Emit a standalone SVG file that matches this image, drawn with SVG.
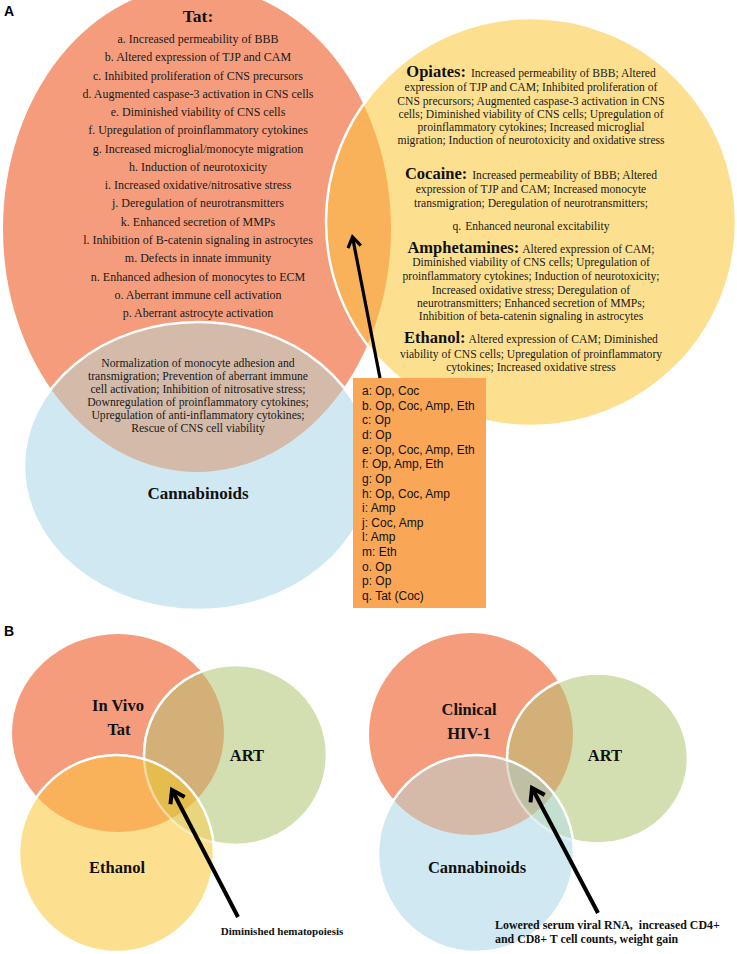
<svg xmlns="http://www.w3.org/2000/svg" width="737" height="954" viewBox="0 0 737 954">
<style>
.t{font-family:"Liberation Serif","Times New Roman",serif;font-size:12px;fill:#1a1a1a;text-anchor:middle}
.o{font-family:"Liberation Serif","Times New Roman",serif;font-size:11.7px;fill:#1a1a1a;text-anchor:middle}
.s{font-family:"Liberation Serif","Times New Roman",serif;font-size:11.6px;fill:#1a1a1a;text-anchor:middle}
.h{font-family:"Liberation Serif","Times New Roman",serif;font-size:16.5px;font-weight:bold;fill:#111}
.lb{font-family:"Liberation Serif","Times New Roman",serif;font-size:16.5px;font-weight:bold;fill:#111;text-anchor:middle}
.cap{font-family:"Liberation Serif","Times New Roman",serif;font-size:11px;font-weight:bold;fill:#111}
.cap2{font-family:"Liberation Serif","Times New Roman",serif;font-size:11.9px;font-weight:bold;fill:#111}
.bx{font-family:"Liberation Sans",Arial,sans-serif;font-size:12px;fill:#111}
.pl{font-family:"Liberation Sans",Arial,sans-serif;font-size:14px;font-weight:bold;fill:#000}
.ws{fill:none;stroke:#fff;stroke-width:2.5}
.arw{stroke:#000;fill:none}
</style>
<defs>
<clipPath id="cTatA"><ellipse cx="197" cy="229" rx="194" ry="243"/></clipPath>
<clipPath id="cTatB"><ellipse cx="118" cy="733" rx="106" ry="99"/></clipPath>
<clipPath id="cArtB"><ellipse cx="235.5" cy="755" rx="91.5" ry="90"/></clipPath>
<clipPath id="cHivC"><ellipse cx="471" cy="734" rx="102" ry="101"/></clipPath>
<clipPath id="cArtC"><ellipse cx="597.5" cy="758.5" rx="90.5" ry="85"/></clipPath>
<mask id="mEthB"><rect width="737" height="954" fill="#fff"/><ellipse cx="116.5" cy="853.5" rx="97.5" ry="98.5" fill="#000"/></mask>
<mask id="mCanC"><rect width="737" height="954" fill="#fff"/><ellipse cx="476" cy="853.5" rx="98" ry="98.5" fill="#000"/></mask>
<marker id="ah" viewBox="0 0 16 16" refX="13" refY="8" markerWidth="16" markerHeight="16" markerUnits="userSpaceOnUse" orient="auto">
<path d="M3,1.5 L13,8 L3,14.5" fill="none" stroke="#000" stroke-width="3.2"/>
</marker>
<marker id="ah2" viewBox="0 0 20 20" refX="16" refY="10" markerWidth="20" markerHeight="20" markerUnits="userSpaceOnUse" orient="auto">
<path d="M4,2 L16,10 L4,18" fill="none" stroke="#000" stroke-width="4"/>
</marker>
</defs>

<text class="pl" x="4" y="16">A</text>
<text class="pl" x="4" y="636">B</text>

<!-- Panel A -->
<g id="tat-a">
<ellipse cx="197" cy="229" rx="194" ry="243" fill="#F59C7C"/>
</g>
<g id="cannabinoids-a">
<ellipse cx="198" cy="466" rx="174" ry="144" fill="#CFE8F1"/>
<ellipse cx="198" cy="466" rx="174" ry="144" fill="#D4BAA9" clip-path="url(#cTatA)"/>
<ellipse class="ws" cx="198" cy="466" rx="174" ry="144"/>
<text class="lb" x="198" y="499" style="font-size:17px">Cannabinoids</text>
</g>
<g id="drugs-a">
<ellipse cx="531" cy="222" rx="205" ry="204" fill="#FDE08F"/>
<ellipse cx="531" cy="222" rx="205" ry="204" fill="#F9B15A" clip-path="url(#cTatA)"/>
<ellipse class="ws" cx="531" cy="222" rx="205" ry="204"/>
</g>
<g id="tat-text">
<text class="lb" x="198" y="22" style="font-size:17.5px">Tat:</text>
<text class="t" x="198" y="43">a. Increased permeability of BBB</text>
<text class="t" x="198" y="61.3">b. Altered expression of TJP and CAM</text>
<text class="t" x="198" y="79.5">c. Inhibited proliferation of CNS precursors</text>
<text class="t" x="198" y="97.8">d. Augmented caspase-3 activation in CNS cells</text>
<text class="t" x="198" y="116.1">e. Diminished viability of CNS cells</text>
<text class="t" x="198" y="134.4">f. Upregulation of proinflammatory cytokines</text>
<text class="t" x="198" y="152.6">g. Increased microglial/monocyte migration</text>
<text class="t" x="198" y="170.9">h. Induction of neurotoxicity</text>
<text class="t" x="198" y="189.2">i. Increased oxidative/nitrosative stress</text>
<text class="t" x="198" y="207.4">j. Deregulation of neurotransmitters</text>
<text class="t" x="198" y="225.7">k. Enhanced secretion of MMPs</text>
<text class="t" x="198" y="244">l. Inhibition of B-catenin signaling in astrocytes</text>
<text class="t" x="198" y="262.2">m. Defects in innate immunity</text>
<text class="t" x="198" y="280.5">n. Enhanced adhesion of monocytes to ECM</text>
<text class="t" x="198" y="298.8">o. Aberrant immune cell activation</text>
<text class="t" x="198" y="317">p. Aberrant astrocyte activation</text>
</g>
<g id="overlap-text">
<text class="o" x="198" y="366.5">Normalization of monocyte adhesion and</text>
<text class="o" x="198" y="379.5">transmigration; Prevention of aberrant immune</text>
<text class="o" x="198" y="392.5">cell activation; Inhibition of nitrosative stress;</text>
<text class="o" x="198" y="405.8">Downregulation of proinflammatory cytokines;</text>
<text class="o" x="198" y="419">Upregulation of anti-inflammatory cytokines;</text>
<text class="o" x="198" y="431.5">Rescue of CNS cell viability</text>
</g>
<g id="drugs-text">
<text class="s" x="531" y="77"><tspan class="h">Opiates:</tspan><tspan dx="5">Increased permeability of BBB; Altered</tspan></text>
<text class="s" x="531" y="91">expression of TJP and CAM; Inhibited proliferation of</text>
<text class="s" x="531" y="104.5">CNS precursors; Augmented caspase-3 activation in CNS</text>
<text class="s" x="531" y="117.5">cells; Diminished viability of CNS cells; Upregulation of</text>
<text class="s" x="531" y="131">proinflammatory cytokines; Increased microglial</text>
<text class="s" x="531" y="144">migration; Induction of neurotoxicity and oxidative stress</text>
<text class="s" x="531" y="178.5"><tspan class="h">Cocaine:</tspan><tspan dx="5">Increased permeability of BBB; Altered</tspan></text>
<text class="s" x="531" y="193">expression of TJP and CAM; Increased monocyte</text>
<text class="s" x="531" y="207">transmigration; Deregulation of neurotransmitters;</text>
<text class="s" x="531" y="230">q.<tspan dx="4">Enhanced neuronal excitability</tspan></text>
<text class="s" x="531" y="252.5"><tspan class="h">Amphetamines:</tspan><tspan dx="3">Altered expression of CAM;</tspan></text>
<text class="s" x="531" y="266">Diminished viability of CNS cells; Upregulation of</text>
<text class="s" x="531" y="280">proinflammatory cytokines; Induction of neurotoxicity;</text>
<text class="s" x="531" y="293.5">Increased oxidative stress; Deregulation of</text>
<text class="s" x="531" y="307">neurotransmitters; Enhanced secretion of MMPs;</text>
<text class="s" x="531" y="319.5">Inhibition of beta-catenin signaling in astrocytes</text>
<text class="s" x="531" y="342.5"><tspan class="h">Ethanol:</tspan><tspan dx="3">Altered expression of CAM; Diminished</tspan></text>
<text class="s" x="531" y="358">viability of CNS cells; Upregulation of proinflammatory</text>
<text class="s" x="531" y="371">cytokines; Increased oxidative stress</text>
</g>
<g id="legend-box">
<rect x="353" y="378" width="133" height="230" fill="#F9A657"/>
<text class="bx" x="362" y="395">a: Op, Coc</text>
<text class="bx" x="362" y="409.6">b. Op, Coc, Amp, Eth</text>
<text class="bx" x="362" y="424.3">c: Op</text>
<text class="bx" x="362" y="438.9">d: Op</text>
<text class="bx" x="362" y="453.6">e: Op, Coc, Amp, Eth</text>
<text class="bx" x="362" y="468.2">f: Op, Amp, Eth</text>
<text class="bx" x="362" y="482.8">g: Op</text>
<text class="bx" x="362" y="497.5">h: Op, Coc, Amp</text>
<text class="bx" x="362" y="512.1">i: Amp</text>
<text class="bx" x="362" y="526.8">j: Coc, Amp</text>
<text class="bx" x="362" y="541.4">l: Amp</text>
<text class="bx" x="362" y="556">m: Eth</text>
<text class="bx" x="362" y="570.7">o. Op</text>
<text class="bx" x="362" y="585.3">p: Op</text>
<text class="bx" x="362" y="600">q. Tat (Coc)</text>
</g>

<!-- Panel B left -->
<g id="tat-b">
<ellipse cx="118" cy="733" rx="106" ry="99" fill="#F59C7C"/>
<text class="lb" x="118" y="711">In Vivo</text>
<text class="lb" x="119" y="735">Tat</text>
</g>
<g id="art-b">
<ellipse cx="235.5" cy="755" rx="91.5" ry="90" fill="#D3DFB1"/>
<ellipse cx="235.5" cy="755" rx="91.5" ry="90" fill="#D3B077" clip-path="url(#cTatB)"/>
</g>
<g id="ethanol-b">
<ellipse cx="116.5" cy="853.5" rx="97.5" ry="98.5" fill="#FDE08F"/>
<ellipse cx="116.5" cy="853.5" rx="97.5" ry="98.5" fill="#F9B15A" clip-path="url(#cTatB)"/>
<g clip-path="url(#cArtB)">
<ellipse cx="116.5" cy="853.5" rx="97.5" ry="98.5" fill="#E8D57C"/>
<ellipse cx="116.5" cy="853.5" rx="97.5" ry="98.5" fill="#E5BC4E" clip-path="url(#cTatB)"/>
</g>
<ellipse cx="235.5" cy="755" rx="91.5" ry="90" fill="none" stroke="#fff" stroke-width="2.5" stroke-opacity="0.45"/>
<ellipse cx="235.5" cy="755" rx="91.5" ry="90" fill="none" stroke="#fff" stroke-width="2.5" mask="url(#mEthB)"/>
<ellipse class="ws" cx="116.5" cy="853.5" rx="97.5" ry="98.5"/>
<text class="lb" x="117" y="873">Ethanol</text>
</g>
<text class="lb" x="247" y="761">ART</text>

<!-- Panel B right -->
<g id="hiv-c">
<ellipse cx="471" cy="734" rx="102" ry="101" fill="#F59C7C"/>
<text class="lb" x="469" y="715">Clinical</text>
<text class="lb" x="469" y="739">HIV-1</text>
</g>
<g id="art-c">
<ellipse cx="597.5" cy="758.5" rx="90.5" ry="85" fill="#D3DFB1"/>
<ellipse cx="597.5" cy="758.5" rx="90.5" ry="85" fill="#D3B077" clip-path="url(#cHivC)"/>
</g>
<g id="cannabinoids-c">
<ellipse cx="476" cy="853.5" rx="98" ry="98.5" fill="#CFE8F1"/>
<ellipse cx="476" cy="853.5" rx="98" ry="98.5" fill="#D5BAAA" clip-path="url(#cHivC)"/>
<g clip-path="url(#cArtC)">
<ellipse cx="476" cy="853.5" rx="98" ry="98.5" fill="#C3DFD0"/>
<ellipse cx="476" cy="853.5" rx="98" ry="98.5" fill="#BFBFA3" clip-path="url(#cHivC)"/>
</g>
<ellipse cx="597.5" cy="758.5" rx="90.5" ry="85" fill="none" stroke="#fff" stroke-width="2.5" stroke-opacity="0.45"/>
<ellipse cx="597.5" cy="758.5" rx="90.5" ry="85" fill="none" stroke="#fff" stroke-width="2.5" mask="url(#mCanC)"/>
<ellipse class="ws" cx="476" cy="853.5" rx="98" ry="98.5"/>
<text class="lb" x="477" y="873">Cannabinoids</text>
</g>
<text class="lb" x="605" y="761">ART</text>

<g id="captions">
<text class="cap" x="282" y="934.5" text-anchor="middle">Diminished hematopoiesis</text>
<text class="cap2" x="495" y="929">Lowered serum viral RNA,<tspan dx="6">increased CD4+</tspan></text>
<text class="cap2" x="495" y="943">and CD8+ T cell counts, weight gain</text>
</g>

<g id="connectors">
<line class="arw" x1="380" y1="378" x2="352.5" y2="237" stroke-width="3.2" marker-end="url(#ah)"/>
<line class="arw" x1="238" y1="917" x2="172" y2="790" stroke-width="4" marker-end="url(#ah2)"/>
<line class="arw" x1="598" y1="913" x2="532" y2="788" stroke-width="4" marker-end="url(#ah2)"/>
</g>
</svg>
